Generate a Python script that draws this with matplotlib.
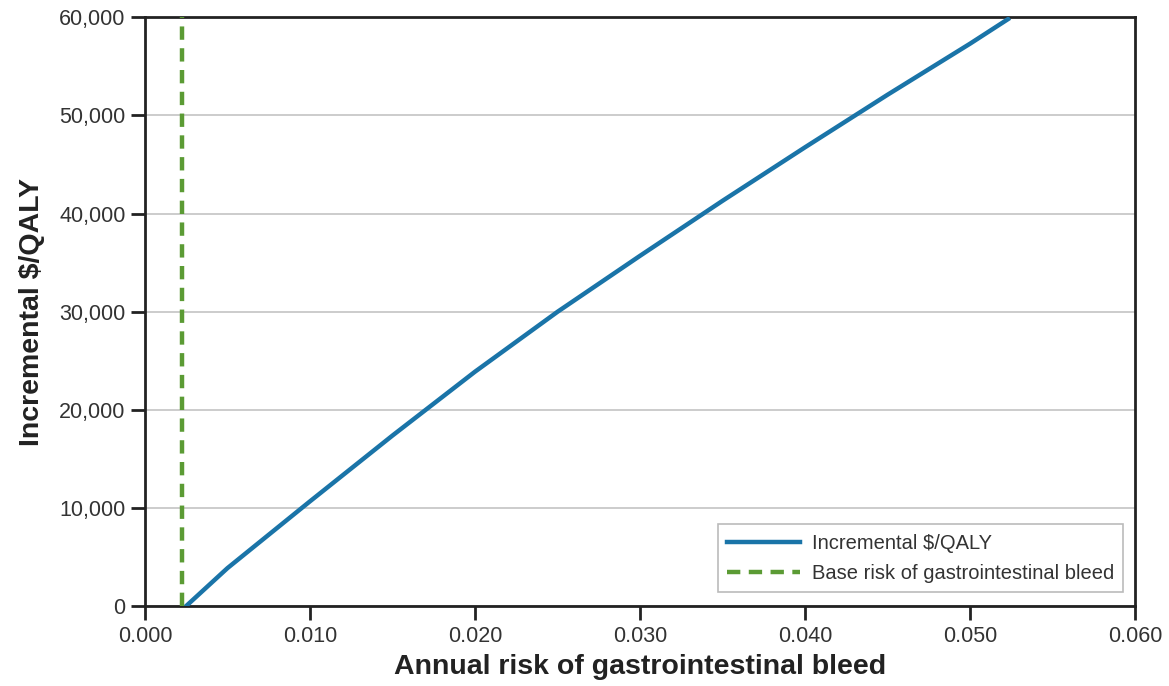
import numpy as np
import matplotlib.pyplot as plt

plt.rcParams['font.family'] = ['Liberation Sans', 'DejaVu Sans']

# annual GI bleed risk vs incremental cost per QALY
risk = [0.00247, 0.005, 0.010, 0.015, 0.020, 0.025, 0.030, 0.035, 0.040, 0.045, 0.050, 0.0523]
cost_per_qaly = [0, 3900, 10700, 17400, 23900, 30000, 35700, 41300, 46750, 52100, 57300, 59800]
base_risk = 0.00225

xticks = [0.0, 0.01, 0.02, 0.03, 0.04, 0.05, 0.06]
yticks = [0, 10000, 20000, 30000, 40000, 50000, 60000]

fig = plt.figure(figsize=(11.69, 6.86), dpi=100)
ax = fig.add_axes([0.124, 0.116, 0.847, 0.859])

ax.plot(risk, cost_per_qaly, color='#1a74a8', lw=3.2, label='Incremental $/QALY',
        zorder=3, solid_joinstyle='round')
ax.axvline(base_risk, color='#5b9b34', lw=3.2, ls=(0, (3.0, 1.9)),
           label='Base risk of gastrointestinal bleed', zorder=3)

ax.set_xlim(0, 0.06)
ax.set_ylim(0, 60000)
ax.set_xticks(xticks)
ax.set_xticklabels([f'{v:.3f}' for v in xticks])
ax.set_yticks(yticks)
ax.set_yticklabels([f'{v:,}' for v in yticks])
ax.yaxis.grid(True, color='#c4c4c4', lw=1.2)
ax.set_axisbelow(True)

for s in ax.spines.values():
    s.set_linewidth(2)
    s.set_color('#222222')
ax.tick_params(axis='both', direction='out', length=10, width=2, color='#222222',
               labelsize=15.5, labelcolor='#333333', pad=4)

ax.set_xlabel('Annual risk of gastrointestinal bleed', fontsize=20.5, fontweight='bold',
              color='#222222', labelpad=5)
ax.set_ylabel('Incremental $/QALY', fontsize=20.5, fontweight='bold', color='#222222',
              labelpad=10)

leg = ax.legend(loc='lower right', fontsize=14.5, frameon=True, fancybox=False,
                edgecolor='#aaaaaa', handlelength=3.6, borderpad=0.45,
                bbox_to_anchor=(0.988, 0.025), borderaxespad=0,
                labelspacing=0.55, handletextpad=0.6)
leg.get_frame().set_linewidth(1.2)
for t in leg.get_texts():
    t.set_color('#333333')

fig.savefig('out.png', dpi=100)
